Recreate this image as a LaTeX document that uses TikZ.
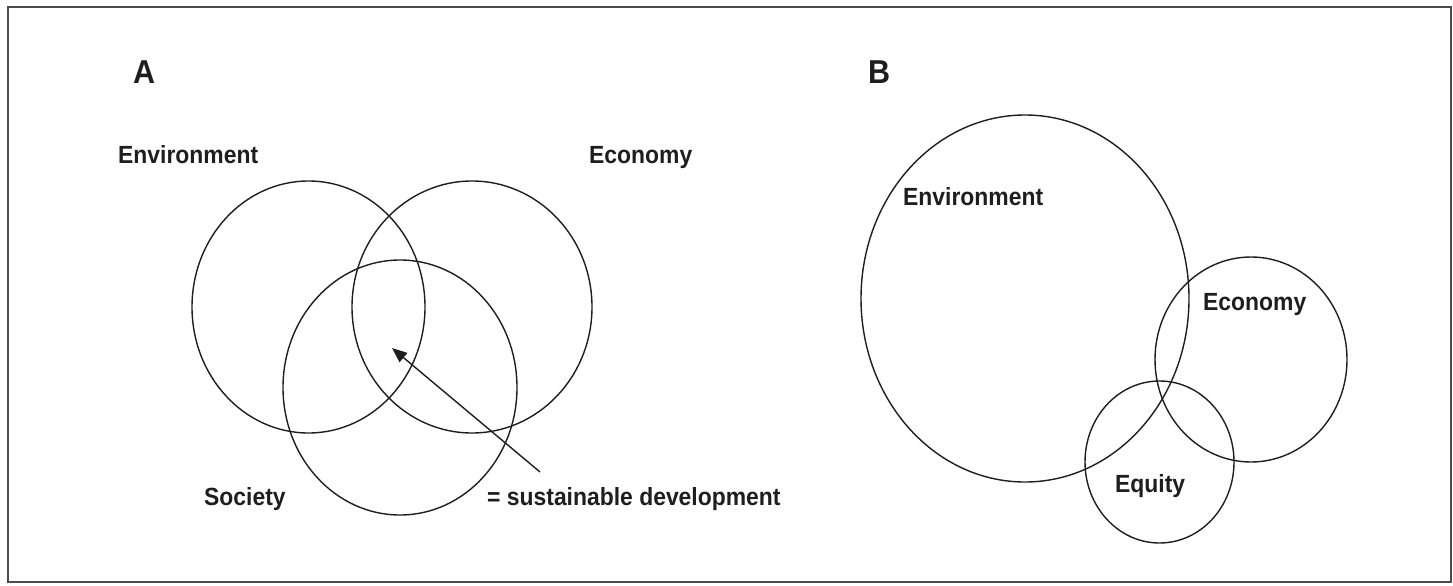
\documentclass[tikz,border=0pt]{standalone}
\usepackage{fontspec}
\setmainfont{Liberation Sans}
\usetikzlibrary{arrows.meta}
\definecolor{ink}{HTML}{1E1E1E}
\tikzset{
  ring/.style={draw=ink, line width=1.4pt},
  lbl/.style={anchor=base west, inner sep=0pt, text=ink, font=\fontsize{22.9}{27}\selectfont\bfseries},
  big/.style={anchor=base west, inner sep=0pt, text=ink, font=\fontsize{30.5}{36}\selectfont\bfseries},
}
\newcommand{\vs}[1]{\scalebox{1}[1.085]{#1}}
\begin{document}
\begin{tikzpicture}[x=1pt,y=-1pt]
\useasboundingbox (0,0) rectangle (1453,586);
\draw[draw=ink!80, line width=1.5pt] (8,7) rectangle (1451,582);
% panel labels
\node[big] (pa) at (133,84) {\vs{A}};
\node[big] (pb) at (868,84) {\vs{B}};
% panel A circles
\coordinate (envA) at (308.5,307);
\coordinate (ecoA) at (472,307);
\coordinate (socA) at (400,387.5);
\draw[ring] (envA) ellipse [x radius=116.5, y radius=126];
\draw[ring] (ecoA) ellipse [x radius=120, y radius=126];
\draw[ring] (socA) ellipse [x radius=117, y radius=127.5];
\node[lbl] (tenvA) at (118,163) {\vs{Environment}};
\node[lbl] (tecoA) at (589,163) {\vs{Economy}};
\node[lbl] (tsocA) at (204,505) {\vs{Society}};
\node[lbl] (tsd) at (487,505) {\vs{= sustainable development}};
\coordinate (tail) at (540,472);
\coordinate (tip) at (392,348);
\draw[draw=ink, line width=1.4pt, -{Triangle[length=15pt,width=12pt]}] (tail) -- (tip);
% panel B circles
\coordinate (envB) at (1025,298.5);
\coordinate (ecoB) at (1251,359.5);
\coordinate (equB) at (1159.5,462);
\draw[ring] (envB) ellipse [x radius=164, y radius=183.5];
\draw[ring] (ecoB) ellipse [x radius=96, y radius=102.5];
\draw[ring] (equB) ellipse [x radius=74.5, y radius=81];
\node[lbl] (tenvB) at (903,205) {\vs{Environment}};
\node[lbl] (tecoB) at (1203,310) {\vs{Economy}};
\node[lbl] (tequB) at (1115,492) {\vs{Equity}};
\end{tikzpicture}
\end{document}
